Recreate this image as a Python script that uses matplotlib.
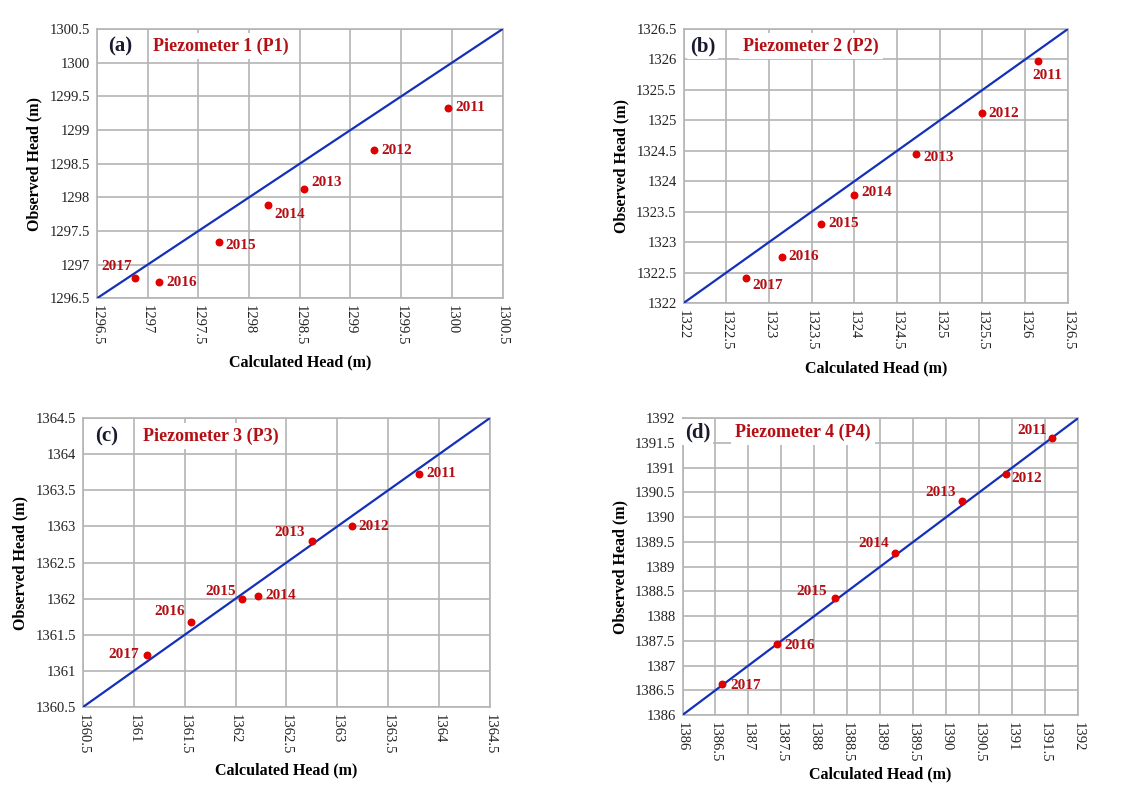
import matplotlib.pyplot as plt
import numpy as np

plt.rcParams['font.family'] = ['Liberation Serif', 'DejaVu Serif']

years = ['2011', '2012', '2013', '2014', '2015', '2016', '2017']

# calculated / observed heads
p1_calc = [1299.96, 1299.23, 1298.54, 1298.19, 1297.70, 1297.11, 1296.88]
p1_obs = [1299.33, 1298.70, 1298.13, 1297.88, 1297.33, 1296.74, 1296.80]
p2_calc = [1326.15, 1325.49, 1324.72, 1323.99, 1323.61, 1323.15, 1322.73]
p2_obs = [1325.97, 1325.12, 1324.44, 1323.78, 1323.30, 1322.76, 1322.41]
p3_calc = [1363.80, 1363.14, 1362.75, 1362.22, 1362.06, 1361.56, 1361.13]
p3_obs = [1363.73, 1363.00, 1362.80, 1362.04, 1361.99, 1361.67, 1361.22]
p4_calc = [1391.61, 1390.90, 1390.24, 1389.23, 1388.31, 1387.44, 1386.60]
p4_obs = [1391.61, 1390.88, 1390.32, 1389.28, 1388.36, 1387.44, 1386.63]

ranges = [(1296.5, 1300.5), (1322, 1326.5), (1360.5, 1364.5), (1386, 1392)]
letters = ['(a)', '(b)', '(c)', '(d)']
names = ['Piezometer 1 (P1)', 'Piezometer 2 (P2)', 'Piezometer 3 (P3)', 'Piezometer 4 (P4)']

# label offsets in pixels (dx, dy, ha)
offs = [
    [(8, 0, 'left'), (8, 0, 'left'), (8, 6, 'left'), (6, -9, 'left'), (7, -3, 'left'), (8, 0, 'left'), (-3, 12, 'right')],
    [(9, -14, 'center'), (7, 0, 'left'), (7, -3, 'left'), (8, 2, 'left'), (7, 0, 'left'), (7, 0, 'left'), (6, -7, 'left')],
    [(8, 0, 'left'), (7, 0, 'left'), (-7, 8, 'right'), (7, 0, 'left'), (-6, 8, 'right'), (-6, 11, 'right'), (-8, 0, 'right')],
    [(-5, 7, 'right'), (6, -5, 'left'), (-6, 9, 'right'), (-6, 9, 'right'), (-8, 7, 'right'), (7, -2, 'left'), (8, -2, 'left')],
]

boxes = [
    [0.0858, 0.620, 0.359, 0.343],
    [0.605, 0.614, 0.340, 0.349],
    [0.0735, 0.0994, 0.360, 0.368],
    [0.604, 0.0892, 0.350, 0.378],
]
letter_pos = [(0.057, 0.937), (0.05, 0.938), (0.059, 0.938), (0.038, 0.953)]
name_pos = [(0.138, 0.937), (0.154, 0.938), (0.147, 0.938), (0.132, 0.953)]
xlabelpads = [6, 7, 6, 3]

data = [(p1_calc, p1_obs), (p2_calc, p2_obs), (p3_calc, p3_obs), (p4_calc, p4_obs)]

fig = plt.figure(figsize=(11.3, 7.85), dpi=100)
fig.patch.set_facecolor('white')

for i in range(4):
    ax = fig.add_axes(boxes[i])
    lo, hi = ranges[i]
    calc, obs = data[i]
    ticks = np.arange(lo, hi + 0.01, 0.5)
    ax.set_xlim(lo, hi)
    ax.set_ylim(lo, hi)
    ax.set_xticks(ticks)
    ax.set_yticks(ticks)
    ax.set_xticklabels(['%g' % t for t in ticks], rotation=-90, fontsize=10.5)
    ax.set_yticklabels(['%g' % t for t in ticks], fontsize=10.5)
    ax.tick_params(length=0, pad=5, colors='#222222')
    ax.grid(True, color='#b4b4b4', linewidth=1.2)
    ax.set_axisbelow(True)
    for s in ax.spines.values():
        s.set_color('#b4b4b4')
        s.set_linewidth(1.2)

    ax.plot([lo, hi], [lo, hi], color='#1530b8', linewidth=1.6, zorder=3)
    ax.scatter(calc, obs, s=22, color='#e00000', zorder=4)
    for j in range(len(years)):
        dx, dy, ha = offs[i][j]
        ax.annotate(years[j], (calc[j], obs[j]), xytext=(dx, dy), textcoords='offset pixels',
                    ha=ha, va='center', fontsize=11, fontweight='bold', color='#b40f14', zorder=5)

    ax.text(letter_pos[i][0], letter_pos[i][1], letters[i], transform=ax.transAxes,
            ha='center', va='center', fontsize=15, fontweight='bold', color='#1a1a2e',
            bbox=dict(facecolor='white', edgecolor='none', pad=2), zorder=6)
    ax.text(name_pos[i][0], name_pos[i][1], names[i], transform=ax.transAxes,
            ha='left', va='center', fontsize=13, fontweight='bold', color='#b40f14',
            bbox=dict(facecolor='white', edgecolor='none', pad=3), zorder=6)

    ax.set_xlabel('Calculated Head (m)', fontsize=11.5, fontweight='bold', labelpad=xlabelpads[i])
    ax.set_ylabel('Observed Head (m)', fontsize=11.5, fontweight='bold', labelpad=5)

fig.savefig('out.png', dpi=100)
